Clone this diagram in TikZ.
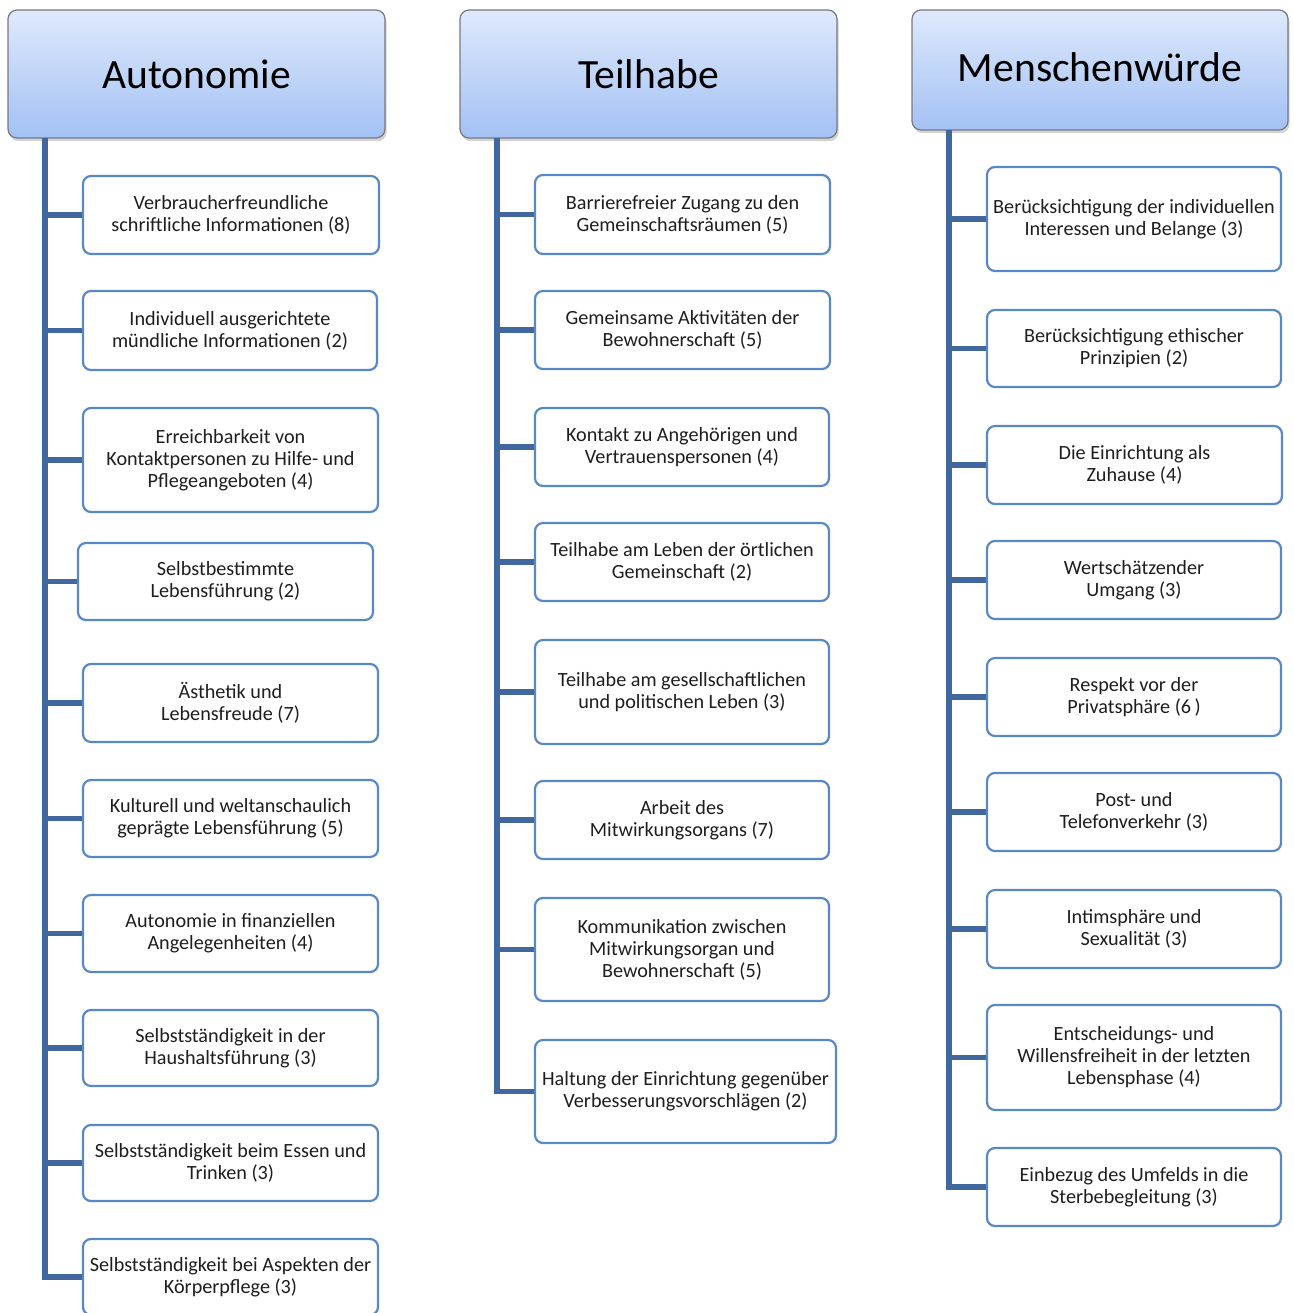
\documentclass[tikz,border=0pt]{standalone}
\usepackage{fontspec}
\setmainfont{Carlito}
\usetikzlibrary{shadows}
\definecolor{hdtop}{RGB}{222,233,252}
\definecolor{hdbot}{RGB}{163,193,244}
\definecolor{hdborder}{RGB}{120,120,128}
\definecolor{subborder}{RGB}{88,136,198}
\definecolor{conncol}{RGB}{64,104,158}
\definecolor{txt}{RGB}{30,30,30}
\tikzset{
  header/.style={draw=hdborder, line width=0.6pt, rounded corners=4.5pt,
    top color=hdtop, bottom color=hdbot, text=black,
    font=\fontsize{20.8}{24}\selectfont,
    drop shadow={opacity=0.35, shadow xshift=0.8pt, shadow yshift=-1.6pt},
    inner sep=0pt, align=center},
  subbox/.style={draw=subborder, line width=1.1pt, rounded corners=4pt,
    fill=white, text=txt, font=\fontsize{10.1}{11}\selectfont,
    inner sep=0pt, align=center},
  conn/.style={draw=conncol, line width=2.6pt}
}
\newcommand{\mybox}[7]{%
  \pgfmathsetmacro{\cx}{(#3+#5)/2}%
  \pgfmathsetmacro{\cy}{(#4+#6)/2}%
  \pgfmathsetmacro{\bw}{(#5-#3)*0.5}%
  \pgfmathsetmacro{\bh}{(#6-#4)*0.5}%
  \node[#1, minimum width=\bw pt, minimum height=\bh pt] (#2) at (\cx,\cy) {#7};%
}
\begin{document}
\begin{tikzpicture}[x=0.5pt,y=-0.5pt]
\useasboundingbox (0,0) rectangle (1294,1313);

% headers
\mybox{header}{h1}{8}{10}{385}{138}{Autonomie}
\mybox{header}{h2}{460}{10}{837}{138}{Teilhabe}
\mybox{header}{h3}{912}{10}{1288}{130}{\raisebox{3pt}{Menschenwürde}}

% trunk starts
\coordinate (t1) at (45,138);
\coordinate (t2) at (497,138);
\coordinate (t3) at (949,130);

% column 1
\mybox{subbox}{a1}{83}{176}{379}{254}{Verbraucherfreundliche\\schriftliche Informationen (8)}
\mybox{subbox}{a2}{83}{291}{377}{370}{Individuell ausgerichtete\\mündliche Informationen (2)}
\mybox{subbox}{a3}{83}{408}{378}{512}{Erreichbarkeit von\\Kontaktpersonen zu Hilfe- und\\Pflegeangeboten (4)}
\mybox{subbox}{a4}{78}{543}{373}{620}{Selbstbestimmte\\Lebensführung (2)}
\mybox{subbox}{a5}{83}{664}{378}{742}{Ästhetik und\\Lebensfreude (7)}
\mybox{subbox}{a6}{83}{780}{378}{857}{Kulturell und weltanschaulich\\geprägte Lebensführung (5)}
\mybox{subbox}{a7}{83}{895}{378}{972}{Autonomie in finanziellen\\Angelegenheiten (4)}
\mybox{subbox}{a8}{83}{1010}{378}{1086}{Selbstständigkeit in der\\Haushaltsführung (3)}
\mybox{subbox}{a9}{83}{1125}{378}{1201}{Selbstständigkeit beim Essen und\\Trinken (3)}
\mybox{subbox}{a10}{83}{1239}{378}{1315}{Selbstständigkeit bei Aspekten der\\Körperpflege (3)}

% column 2
\mybox{subbox}{b1}{535}{175}{830}{254}{Barrierefreier Zugang zu den\\Gemeinschaftsräumen (5)}
\mybox{subbox}{b2}{535}{291}{830}{369}{Gemeinsame Aktivitäten der\\Bewohnerschaft (5)}
\mybox{subbox}{b3}{535}{408}{829}{486}{Kontakt zu Angehörigen und\\Vertrauenspersonen (4)}
\mybox{subbox}{b4}{535}{523}{829}{601}{Teilhabe am Leben der örtlichen\\Gemeinschaft (2)}
\mybox{subbox}{b5}{535}{640}{829}{744}{Teilhabe am gesellschaftlichen\\und politischen Leben (3)}
\mybox{subbox}{b6}{535}{781}{829}{859}{Arbeit des\\Mitwirkungsorgans (7)}
\mybox{subbox}{b7}{535}{898}{829}{1001}{Kommunikation zwischen\\Mitwirkungsorgan und\\Bewohnerschaft (5)}
\mybox{subbox}{b8}{535}{1040}{836}{1143}{Haltung der Einrichtung gegenüber\\Verbesserungsvorschlägen (2)}

% column 3
\mybox{subbox}{c1}{987}{167}{1281}{271}{Berücksichtigung der individuellen\\Interessen und Belange (3)}
\mybox{subbox}{c2}{987}{310}{1281}{387}{Berücksichtigung ethischer\\Prinzipien (2)}
\mybox{subbox}{c3}{987}{426}{1282}{504}{Die Einrichtung als\\Zuhause (4)}
\mybox{subbox}{c4}{987}{541}{1281}{619}{Wertschätzender\\Umgang (3)}
\mybox{subbox}{c5}{987}{658}{1281}{736}{Respekt vor der\\Privatsphäre (6\,)}
\mybox{subbox}{c6}{987}{773}{1281}{851}{Post- und\\Telefonverkehr (3)}
\mybox{subbox}{c7}{987}{890}{1281}{968}{Intimsphäre und\\Sexualität (3)}
\mybox{subbox}{c8}{987}{1005}{1281}{1110}{Entscheidungs- und\\Willensfreiheit in der letzten\\Lebensphase (4)}
\mybox{subbox}{c9}{987}{1148}{1281}{1226}{Einbezug des Umfelds in die\\Sterbebegleitung (3)}

% connectors
\draw[conn] (t1) |- (a10.west);
\foreach \n in {1,...,9} { \draw[conn] (t1 |- a\n.west) -- (a\n.west); }
\draw[conn] (t2) |- (b8.west);
\foreach \n in {1,...,7} { \draw[conn] (t2 |- b\n.west) -- (b\n.west); }
\draw[conn] (t3) |- (c9.west);
\foreach \n in {1,...,8} { \draw[conn] (t3 |- c\n.west) -- (c\n.west); }
\end{tikzpicture}
\end{document}
